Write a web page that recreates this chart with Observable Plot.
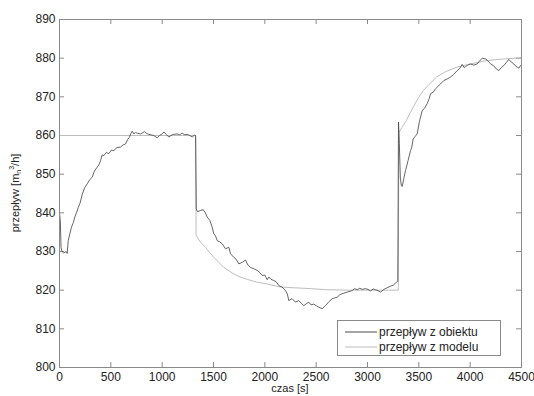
<!DOCTYPE html>
<html><head><meta charset="utf-8">
<style>
body{margin:0;background:#fff;}
#wrap{position:relative;width:534px;height:396px;}
</style>
<script src="https://cdn.jsdelivr.net/npm/d3@7"></script>
<script src="https://cdn.jsdelivr.net/npm/@observablehq/plot@0.6"></script>
</head><body><div id="wrap"></div>
<script>
// measured flow (przepływ z obiektu)
const tObj = [0,8,15,25,42,65,75,85,100,117,135,149,165,182,200,221,245,270,295,318,340,367,385,400,415,432,455,480,505,529,560,594,620,643,665,682,695,708,724,740,757,789,810,828,850,870,918,952,975,1000,1016,1040,1065,1085,1108,1146,1170,1195,1220,1244,1270,1292,1315,1325,
1332,1345,1373,1400,1420,1439,1465,1487,1503,1520,1536,1560,1585,1617,1649,1666,1698,1720,1746,1780,1812,1835,1860,1895,1926,1950,1974,2000,2023,2039,2060,2087,2110,2136,2169,2201,2220,2233,2266,2299,2331,2355,2380,2405,2428,2450,2477,2500,2526,2559,2591,2620,2656,2680,2705,2730,2753,2780,2802,2830,2851,2875,2900,2925,2948,2980,3005,3029,3055,3078,3100,3127,3160,3190,3220,3250,3280,3295,
3302,3310,3320,3330,3338,3355,3370,3395,3419,3430,3445,3465,3484,3505,3533,3555,3581,3600,3614,3640,3660,3679,3710,3743,3775,3808,3840,3874,3900,3922,3940,3954,3975,4003,4035,4068,4090,4117,4149,4165,4182,4201,4230,4255,4279,4300,4328,4350,4376,4400,4425,4445,4458,4475,4490,4500];
const vObj = [840,838,831,830,829.6,830,829.5,832.8,834.5,836.3,837.5,838.9,840,841.3,842.5,844.7,846.5,847.5,848.6,849.2,850.8,851.8,852.5,853.5,855,854.8,855.6,855.3,856.2,856.1,856.9,857,857.6,857.8,859,859.6,860.5,861.1,860.4,860.8,860.6,860.4,860.7,861,860.5,860.3,860,859.4,860,860.4,860.9,860.3,859.6,860,860.3,860.4,860.2,860.6,860.2,860.3,860,859.6,860.1,860,
841,840.3,840.6,840.8,840,838.9,838,836.3,834.6,834,832.8,832.5,832,830.7,831.1,829.4,828.5,828,826.8,827.2,827.8,826.5,825.9,825.5,825.1,824.6,823.8,823.9,822.7,823.4,822.8,822.5,822.2,821.2,820.8,819.9,819,817.3,817.8,816.9,817.3,816.6,816,816.5,816.9,816.2,816.4,816,815.6,815.2,816,816.9,817.8,818,818.2,818.8,819.1,819.3,819.5,819.7,819.9,820.4,820.1,820.5,820.2,820.4,820.2,819.8,820.3,820.1,819.9,819.5,820.2,820.6,821,821.3,822,822.3,
863.5,858,849,847,846.8,849,850.9,853.5,856.1,856.8,859.1,859.8,860.4,863.5,866.5,867,868.2,869.5,870.8,871.2,872,872.5,873.3,874.2,874.6,875.1,875.8,876.8,877.4,878.4,877.6,877.8,878.2,878.5,878.2,878.5,879.2,880,879.8,879.5,879,878.5,878,877.2,876.8,877.5,878.1,878.8,879.7,879,878.5,877.9,877.7,877.4,878.1,878];
// model flow (przepływ z modelu)
const tMod = [0,1328,1330,1373,1422,1460,1503,1550,1600,1650,1698,1760,1828,1920,2023,2153,2300,2445,2607,2800,3300,3305,3340,3380,3410,3445,3490,3543,3600,3673,3760,3873,4003,4166,4328,4500];
const vMod = [860,860,834.2,832.4,831.1,829.8,828.5,827.2,825.9,825,824.2,823.4,822.8,822.1,821.6,820.8,820.6,820.4,820.1,820,820,860.7,862.3,863.9,865.6,867.3,869.5,871.6,873.2,875.1,876.5,877.7,878.5,879.4,879.8,880.1];
const xTicks = [0,500,1000,1500,2000,2500,3000,3500,4000,4500];
const yTicks = [800,810,820,830,840,850,860,870,880,890];
const seriesNames = ["przepływ z obiektu","przepływ z modelu"];
const xLabel = "czas [s]";

const colors = ["#4a4a4a","#bdbdbd"];
const W=534,H=396,mL=59,mR=13,mT=19,mB=29;
const pw=W-mL-mR, ph=H-mT-mB;
const obj = tObj.map((t,i)=>({t, v:vObj[i]}));
const mod = tMod.map((t,i)=>({t, v:vMod[i]}));
const axisCol="#8a8a8a";

const plot = Plot.plot({
  width:W, height:H, marginLeft:mL, marginRight:mR, marginTop:mT, marginBottom:mB,
  x:{domain:[0,4500]}, y:{domain:[800,890]},
  style:{fontFamily:"'Liberation Sans', Arial, sans-serif", fontSize:"12px", color:"#222", background:"white"},
  marks:[
    Plot.tickX(xTicks,{x:d=>d, insetTop:ph-5, stroke:axisCol}),
    Plot.tickX(xTicks,{x:d=>d, insetBottom:ph-5, stroke:axisCol}),
    Plot.tickY(yTicks,{y:d=>d, insetRight:pw-5, stroke:axisCol}),
    Plot.tickY(yTicks,{y:d=>d, insetLeft:pw-5, stroke:axisCol}),
    Plot.line(mod,{x:"t", y:"v", stroke:colors[1], strokeWidth:1}),
    Plot.line(obj,{x:"t", y:"v", stroke:colors[0], strokeWidth:0.85}),
    Plot.frame({stroke:axisCol}),
    Plot.axisX({ticks:xTicks, tickSize:0, tickPadding:5, label:null, tickFormat:d=>String(d)}),
    Plot.axisY({ticks:yTicks, tickSize:0, tickPadding:4, label:null, tickFormat:d=>String(d)})
  ]
});
document.getElementById("wrap").appendChild(plot);
const svg = d3.select(plot);
const ff="'Liberation Sans', Arial, sans-serif";
// x label
svg.append("text").attr("x", mL+pw/2).attr("y", H-4).attr("text-anchor","middle")
  .attr("font-family",ff).attr("font-size",11).attr("fill","#222").text(xLabel);
// y label with sub/superscript
const yl = svg.append("text").attr("transform",`translate(19,${mT+ph/2}) rotate(-90)`)
  .attr("text-anchor","middle").attr("font-family",ff).attr("font-size",11).attr("fill","#222");
yl.append("tspan").text("przepływ [m");
yl.append("tspan").attr("font-size",7).attr("dy",2).text("n");
yl.append("tspan").attr("font-size",7).attr("dy",-7).text("3");
yl.append("tspan").attr("dy",5).text("/h]");
// legend
const lg = svg.append("g");
lg.append("rect").attr("x",337.5).attr("y",320.5).attr("width",163).attr("height",35)
  .attr("fill","white").attr("stroke",axisCol);
seriesNames.forEach((n,i)=>{
  const yy = 332 + i*15;
  lg.append("line").attr("x1",345).attr("x2",377).attr("y1",yy).attr("y2",yy)
    .attr("stroke",colors[i]).attr("stroke-width",1);
  lg.append("text").attr("x",379).attr("y",yy).attr("dy","0.35em").attr("text-anchor","start")
    .attr("font-family",ff).attr("font-size",12).attr("fill","#222").text(n);
});
</script>
</body></html>
